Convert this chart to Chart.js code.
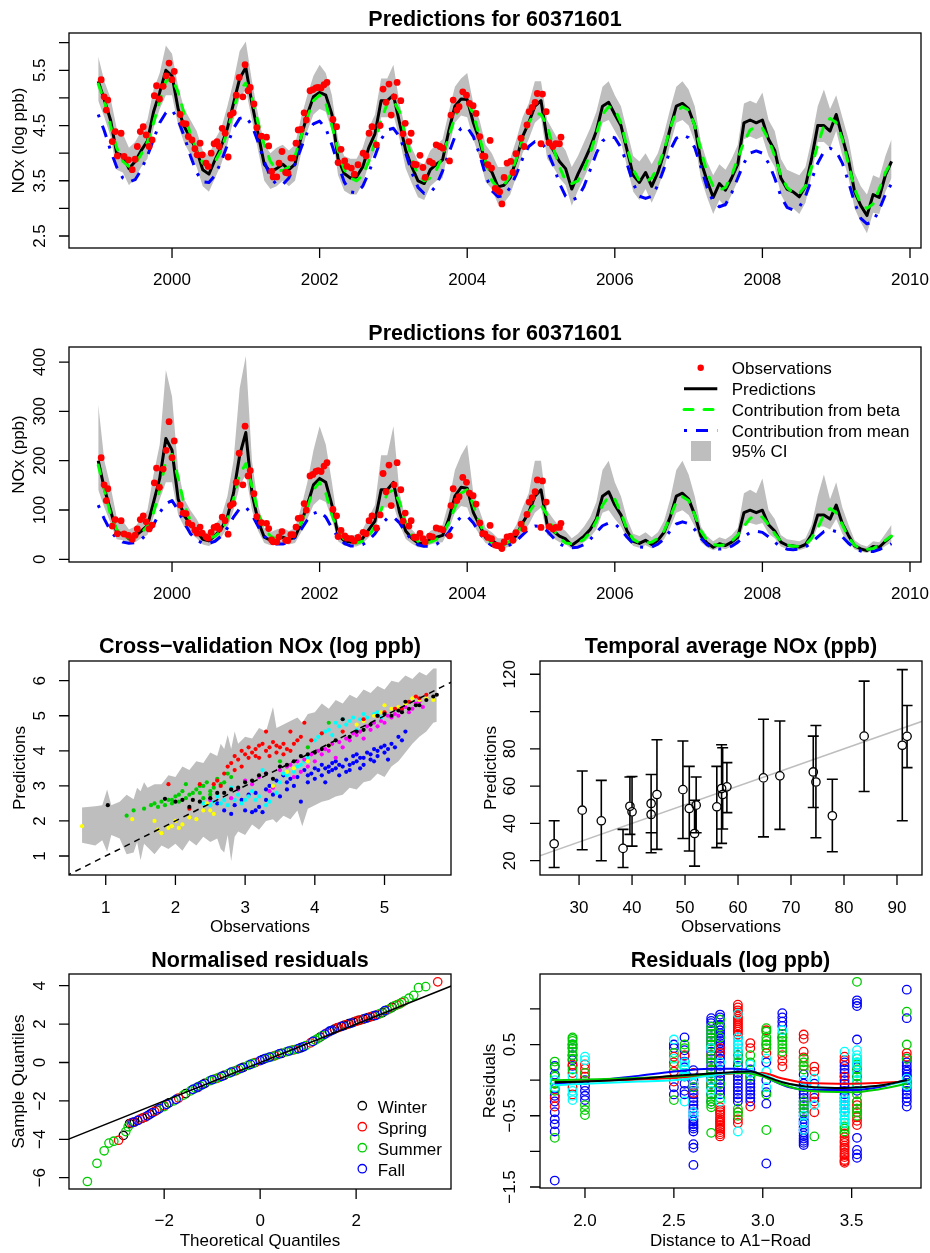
<!DOCTYPE html>
<html>
<head>
<meta charset="utf-8">
<script src="https://cdn.jsdelivr.net/npm/chart.js@4.4.1/dist/chart.umd.min.js"></script>
<style>
  body { margin: 0; background: #fff; }
  #page { position: relative; width: 930px; height: 1253px; overflow: hidden; }
  .panel { position: absolute; }
</style>
</head>
<body>
<div id="page">
  <div class="panel" style="left:0;top:0"><canvas id="c1" width="930" height="300"></canvas></div>
  <div class="panel" style="left:0;top:300px"><canvas id="c2" width="930" height="315"></canvas></div>
  <div class="panel" style="left:0;top:615px"><canvas id="c3" width="465" height="320"></canvas></div>
  <div class="panel" style="left:465px;top:615px"><canvas id="c4" width="465" height="320"></canvas></div>
  <div class="panel" style="left:0;top:935px"><canvas id="c5" width="465" height="318"></canvas></div>
  <div class="panel" style="left:465px;top:935px"><canvas id="c6" width="465" height="318"></canvas></div>
</div>
<script>
// ---- time series (monthly from Jan 1999) ----
const tsStart = 1999;
const predLog = [5.30,4.96,4.60,4.00,3.95,3.72,3.85,4.05,4.22,4.75, 5.10,5.50,5.40,4.80,4.48,4.27,4.05,3.70,3.62,3.88,
  4.12,4.45,4.90,5.35,5.55,4.90,4.35,3.80,3.66,3.72, 3.80,3.70,3.80,4.30,4.70,5.02,5.10,5.05,4.70,3.90,
  3.63,3.55,3.57,3.75,4.10,4.35,4.95,4.95,5.05,4.55, 4.05,3.75,3.50,3.45,3.70,3.80,3.88,4.40,4.85,4.98,
  4.97,4.55,4.24,3.78,3.66,3.39,3.42,3.56,3.88,4.30, 4.55,4.85,4.95,4.25,4.05,3.85,3.72,3.35,3.62,3.85,
  4.10,4.40,4.85,4.92,4.70,4.50,4.05,3.60,3.47,3.65, 3.40,3.65,4.00,4.45,4.85,4.90,4.80,4.50,3.85,3.50,
  3.20,3.45,3.33,3.55,3.80,4.55,4.60,4.55,4.60,4.25, 4.05,3.55,3.35,3.30,3.21,3.40,3.90,4.50,4.50,4.40,
  4.70,4.28,3.88,3.30,3.05,2.87,3.25,3.20,3.60,3.85];
const betaLog = [5.25,4.95,4.50,4.10,3.85,3.76,3.80,3.98,4.20,4.55, 4.95,5.30,5.36,5.10,4.70,4.35,4.05,3.82,3.75,3.85,
  4.05,4.40,4.80,5.15,5.27,5.00,4.55,4.15,3.85,3.70, 3.68,3.75,3.95,4.30,4.65,4.95,5.05,4.90,4.50,4.05,
  3.70,3.55,3.50,3.60,3.85,4.20,4.60,4.90,4.95,4.75, 4.30,3.90,3.60,3.50,3.55,3.70,3.95,4.30,4.65,4.90,
  4.95,4.70,4.30,3.85,3.50,3.37,3.42,3.60,3.90,4.25, 4.55,4.72,4.70,4.50,4.10,3.75,3.50,3.45,3.50,3.70,
  4.00,4.35,4.70,4.84,4.80,4.55,4.10,3.70,3.50,3.48, 3.55,3.75,4.05,4.45,4.75,4.84,4.78,4.50,4.05,3.65,
  3.40,3.33,3.38,3.60,3.90,4.20,4.42,4.48,4.45,4.25, 3.95,3.60,3.38,3.28,3.27,3.40,3.75,4.15,4.50,4.63,
  4.55,4.25,3.80,3.35,3.08,3.00,3.08,3.35,3.65,3.85];
const meanLog = [4.70,4.40,4.05,3.75,3.55,3.48,3.52,3.70,3.95,4.25, 4.55,4.73,4.78,4.60,4.30,3.95,3.65,3.48,3.47,3.60,
  3.85,4.15,4.45,4.63,4.66,4.50,4.20,3.85,3.57,3.43, 3.43,3.55,3.80,4.10,4.38,4.53,4.58,4.45,4.15,3.80,
  3.48,3.30,3.28,3.40,3.65,3.95,4.25,4.42,4.45,4.30, 4.00,3.65,3.38,3.27,3.28,3.42,3.68,4.00,4.30,4.45,
  4.47,4.30,3.98,3.60,3.32,3.21,3.23,3.38,3.62,3.90, 4.12,4.21,4.20,4.05,3.78,3.45,3.22,3.15,3.20,3.40,
  3.70,4.00,4.22,4.30,4.28,4.10,3.80,3.45,3.22,3.18, 3.22,3.42,3.72,4.05,4.27,4.33,4.28,4.10,3.75,3.38,
  3.12,3.03,3.07,3.28,3.55,3.82,4.00,4.04,4.00,3.82, 3.55,3.22,3.02,2.97,3.02,3.22,3.52,3.82,4.03,4.09,
  4.03,3.82,3.48,3.10,2.82,2.72,2.76,2.98,3.25,3.45];
const ciHighLog = [5.75,5.30,5.00,4.45,4.35,4.10,4.20,4.40,4.60,5.15, 5.45,5.95,5.80,5.20,4.80,4.60,4.40,4.05,3.95,4.25,
  4.45,4.85,5.30,5.85,6.02,5.30,4.70,4.15,4.00,4.10, 4.15,4.05,4.15,4.65,5.05,5.40,5.60,5.45,5.05,4.25,
  3.95,3.90,3.90,4.10,4.45,4.70,5.35,5.35,5.60,4.90, 4.40,4.10,3.85,3.80,4.05,4.15,4.25,4.75,5.20,5.35,
  5.45,4.90,4.60,4.15,4.00,3.75,3.75,3.90,4.25,4.65, 4.90,5.30,5.30,4.60,4.40,4.20,4.05,3.75,3.95,4.20,
  4.45,4.75,5.20,5.30,5.05,4.85,4.40,3.95,3.85,4.00, 3.80,4.00,4.35,4.80,5.20,5.30,5.15,4.85,4.20,3.85,
  3.60,3.80,3.70,3.90,4.15,4.90,4.95,4.90,5.10,4.60, 4.40,3.90,3.70,3.65,3.60,3.75,4.25,4.85,5.15,4.80,
  5.05,4.65,4.25,3.65,3.40,3.25,3.60,3.55,3.95,4.25];
const ciLowLog = [4.95,4.65,4.30,3.70,3.65,3.42,3.55,3.75,3.90,4.45, 4.80,5.05,5.05,4.50,4.18,3.97,3.75,3.40,3.30,3.55,
  3.80,4.15,4.60,5.00,5.15,4.60,4.05,3.50,3.35,3.40, 3.50,3.40,3.50,4.00,4.40,4.70,4.80,4.75,4.40,3.60,
  3.32,3.25,3.25,3.45,3.80,4.05,4.65,4.65,4.70,4.25, 3.72,3.45,3.20,3.15,3.40,3.50,3.55,4.10,4.55,4.68,
  4.65,4.25,3.92,3.48,3.35,3.08,3.10,3.25,3.58,4.00, 4.25,4.55,4.65,3.90,3.75,3.55,3.42,3.05,3.32,3.55,
  3.80,4.10,4.55,4.60,4.40,4.20,3.75,3.30,3.15,3.35, 3.10,3.35,3.70,4.15,4.55,4.60,4.50,4.20,3.55,3.20,
  2.90,3.15,3.02,3.25,3.50,4.25,4.30,4.25,4.30,3.95, 3.75,3.25,3.05,3.00,2.90,3.10,3.60,4.20,4.20,4.10,
  4.40,3.95,3.55,3.00,2.75,2.55,2.92,2.90,3.30,3.55];

const predPpb = [200,143,99.5,54.6,51.9,41.3,47.0,57.4,68.0,116, 164,245,221,122,88.2,71.5,57.4,40.4,37.3,48.4,
  61.6,85.6,134,211,257,134,77.5,44.7,38.9,41.3, 44.7,40.4,44.7,73.7,110,151,164,156,110,49.4,
  37.7,34.8,35.5,42.5,60.3,77.5,141,141,156,94.6, 57.4,42.5,33.1,31.5,40.4,44.7,48.4,81.5,128,146,
  144,94.6,69.4,43.8,38.9,29.7,30.6,35.2,48.4,73.7, 94.6,128,141,70.1,57.4,47.0,41.3,28.5,37.3,47.0,
  60.3,81.5,128,137,110,90.0,57.4,36.6,32.1,38.5, 30.0,38.5,54.6,85.6,128,134,122,90.0,47.0,33.1,
  24.5,31.5,27.9,34.8,44.7,94.6,99.5,94.6,99.5,70.1, 57.4,34.8,28.5,27.1,24.8,30.0,49.4,90.0,90.0,81.5,
  110,72.2,48.4,27.1,21.1,17.6,25.8,24.5,36.6,47.0];
const betaPpb = [191,141,90.0,60.3,47.0,42.9,44.7,53.5,66.7,94.6, 141,200,213,164,110,77.5,57.4,45.6,42.5,47.0,
  57.4,81.5,122,172,194,148,94.6,63.4,47.0,40.4, 39.6,42.5,51.9,73.7,105,141,156,134,90.0,57.4,
  40.4,34.8,33.1,36.6,47.0,66.7,99.5,134,141,116, 73.7,49.4,36.6,33.1,34.8,40.4,51.9,73.7,105,134,
  141,110,73.7,47.0,33.1,29.1,30.6,36.6,49.4,70.1, 94.6,112,110,90.0,60.3,42.5,33.1,31.5,33.1,40.4,
  54.6,77.5,110,127,122,94.6,60.3,40.4,33.1,32.5, 34.8,42.5,57.4,85.6,116,127,119,90.0,57.4,38.5,
  30.0,27.9,29.4,36.6,49.4,66.7,83.1,88.2,85.6,70.1, 51.9,36.6,29.4,26.6,26.3,30.0,42.5,63.4,90.0,103,
  94.6,70.1,44.7,28.5,21.8,20.1,21.8,28.5,38.5,47.0];
const meanPpb = [110,81.5,57.4,42.5,34.8,32.5,33.8,40.4,51.9,70.1, 94.6,113,119,99.5,73.7,51.9,38.5,32.5,32.1,36.6,
  47.0,63.4,85.6,103,106,90.0,66.7,47.0,35.5,30.9, 30.9,34.8,44.7,60.3,79.8,92.8,97.5,85.6,63.4,44.7,
  32.5,27.1,26.6,30.0,38.5,51.9,70.1,83.1,85.6,73.7, 54.6,38.5,29.4,26.3,26.6,30.6,39.6,54.6,73.7,85.6,
  87.4,73.7,53.5,36.6,27.7,24.8,25.3,29.4,37.3,49.4, 61.6,67.4,66.7,57.4,43.8,31.5,25.0,23.3,24.5,30.0,
  40.4,54.6,68.0,73.7,72.2,60.3,44.7,31.5,25.0,24.0, 25.0,30.6,41.3,57.4,71.5,76.0,72.2,60.3,42.5,29.4,
  22.6,20.7,21.5,26.6,34.8,45.6,54.6,56.8,54.6,45.6, 34.8,25.0,20.5,19.5,20.5,25.0,33.8,45.6,56.3,59.7,
  56.3,45.6,32.5,22.2,16.8,15.2,15.8,19.7,25.8,31.5];
const ciHighPpb = [314,200,148,85.6,77.5,60.3,66.7,81.5,99.5,172, 233,384,330,181,122,99.5,81.5,57.4,51.9,70.1,
  85.6,128,200,347,412,200,110,63.4,54.6,60.3, 63.4,57.4,63.4,105,156,221,270,233,156,70.1,
  51.9,49.4,49.4,60.3,85.6,110,211,211,270,134, 81.5,60.3,47.0,44.7,57.4,63.4,70.1,116,181,211,
  233,134,99.5,63.4,54.6,42.5,42.5,49.4,70.1,105, 134,200,200,99.5,81.5,66.7,57.4,42.5,51.9,66.7,
  85.6,116,181,200,156,128,81.5,51.9,47.0,54.6, 44.7,54.6,77.5,122,181,200,172,128,66.7,47.0,
  36.6,44.7,40.4,49.4,63.4,134,141,134,164,99.5, 81.5,49.4,40.4,38.5,36.6,42.5,70.1,128,172,122,
  156,105,70.1,38.5,30.0,25.8,36.6,34.8,51.9,70.1];
const ciLowPpb = [141,105,73.7,40.4,38.5,30.6,34.8,42.5,49.4,85.6, 122,156,156,90.0,65.4,53.0,42.5,30.0,27.1,34.8,
  44.7,63.4,99.5,148,172,99.5,57.4,33.1,28.5,30.0, 33.1,30.0,33.1,54.6,81.5,110,122,116,81.5,36.6,
  27.7,25.8,25.8,31.5,44.7,57.4,105,105,110,70.1, 41.3,31.5,24.5,23.3,30.0,33.1,34.8,60.3,94.6,108,
  105,70.1,50.4,32.5,28.5,21.8,22.2,25.8,35.9,54.6, 70.1,94.6,105,49.4,42.5,34.8,30.6,21.1,27.7,34.8,
  44.7,60.3,94.6,99.5,81.5,66.7,42.5,27.1,23.3,28.5, 22.2,28.5,40.4,63.4,94.6,99.5,90.0,66.7,34.8,24.5,
  18.2,23.3,20.5,25.8,33.1,70.1,73.7,70.1,73.7,51.9, 42.5,25.8,21.1,20.1,18.2,22.2,36.6,66.7,66.7,60.3,
  81.5,51.9,34.8,20.1,15.6,12.8,18.5,18.2,27.1,34.8];

const obsYear = [1999.04,1999.08,1999.13,1999.11,1999.19,1999.23,1999.31,1999.26,1999.35,1999.41,
  1999.46,1999.50,1999.53,1999.57,1999.61,1999.65,1999.69,1999.73,1999.76,1999.79,
  1999.83,1999.88,1999.92,1999.96,2000.00,2000.03,2000.11,2000.15,2000.19,2000.22,
  2000.27,2000.31,2000.34,2000.38,2000.41,2000.46,2000.49,2000.53,2000.57,2000.61,
  2000.64,2000.68,2000.72,2000.76,2000.79,2000.83,2000.87,2000.91,2000.96,2000.99,
  2001.03,2001.06,2001.11,2001.15,2001.21,2001.28,2001.31,2001.35,2001.37,2001.42,
  2001.45,2001.49,2001.54,2001.57,2001.61,2001.64,2001.68,2001.71,2001.75,2001.79,
  2001.82,2001.87,2001.91,2001.95,2001.98,2002.02,2002.06,2002.10,2002.18,2002.23,
  2002.25,2002.29,2002.34,2002.37,2002.43,2002.47,2002.52,2002.59,2002.63,2002.67,
  2002.71,2002.77,2002.82,2002.86,2002.90,2002.94,2002.97,2003.01,2003.05,2003.10,
  2003.13,2003.16,2003.21,2003.24,2003.28,2003.31,2003.36,2003.40,2003.43,2003.49,
  2003.53,2003.58,2003.63,2003.67,2003.76,2003.78,2003.81,2003.86,2003.89,2003.94,
  2003.99,2004.03,2004.08,2004.12,2004.17,2004.21,2004.24,2004.28,2004.31,2004.33,
  2004.38,2004.41,2004.44,2004.47,2004.50,2004.54,2004.59,2004.62,2004.66,2004.73,
  2004.77,2004.81,2004.84,2004.88,2004.92,2004.95,2005.00,2005.02,2005.07,2005.11,
  2005.16,2005.20,2005.25,2005.27];
const obsLog = [5.33,5.02,4.96,4.78,4.21,4.39,4.36,3.95,3.94,3.88,
  3.70,3.89,4.12,4.39,4.48,4.33,4.12,4.24,5.04,5.22,
  4.98,5.21,5.40,5.63,5.33,5.48,4.70,4.54,4.53,4.30,
  4.24,4.08,3.97,4.18,3.97,3.82,3.76,4.00,4.17,4.21,
  4.12,4.45,4.36,3.93,4.69,4.73,5.05,5.37,5.02,5.60,
  5.13,5.19,4.89,4.46,4.31,4.29,4.13,3.67,3.57,3.57,
  3.82,4.03,3.65,3.64,3.91,3.91,4.18,4.42,4.43,4.73,
  4.60,5.13,5.15,5.18,5.19,5.18,5.24,5.28,4.61,4.48,
  3.83,4.07,3.86,3.76,3.73,3.62,3.79,4.00,3.95,4.36,
  4.48,4.15,4.50,5.16,4.92,5.25,4.69,5.02,5.28,4.95,
  4.35,4.54,4.21,4.36,3.80,3.79,3.96,3.74,3.56,3.85,
  3.82,4.15,4.12,4.09,3.86,4.69,4.96,4.78,4.84,5.11,
  5.05,4.90,4.86,4.72,4.30,3.95,3.94,3.79,4.23,3.73,
  3.36,3.33,3.30,3.08,3.56,3.82,3.85,3.65,3.99,4.27,
  4.12,4.51,4.75,4.83,4.92,5.08,4.17,5.07,4.75,4.19,
  4.12,4.17,4.17,4.29];
const obsPpb = [206,151,143,119,67.4,80.6,78.3,51.9,51.4,48.4,
  40.4,48.9,61.6,80.6,88.2,76.0,61.6,69.4,155,185,
  146,183,221,279,206,240,110,93.7,92.8,73.7,
  69.4,59.1,53.0,65.4,53.0,45.6,42.9,54.6,64.7,67.4,
  61.6,85.6,78.3,50.9,109,113,156,215,151,270,
  169,180,133,86.5,74.4,73.0,62.2,39.3,35.5,35.5,
  45.6,56.3,38.5,38.1,49.9,49.9,65.4,83.1,83.9,113,
  99.5,169,172,178,180,178,189,196,101,88.2,
  46.1,58.6,47.5,42.9,41.7,37.3,44.3,54.6,51.9,78.3,
  88.2,63.4,90.0,174,137,191,109,151,196,141,
  77.5,93.7,67.4,78.3,44.7,44.3,52.5,42.1,35.2,47.0,
  45.6,63.4,61.6,59.7,47.5,109,143,119,127,166,
  156,134,129,112,73.7,51.9,51.4,44.3,68.7,41.7,
  28.8,27.9,27.1,21.8,35.2,45.6,47.0,38.5,54.1,71.5,
  61.6,90.9,116,125,137,161,64.7,159,116,66.0,
  61.6,64.7,64.7,73.0];

const yearTicks = [2000, 2002, 2004, 2006, 2008, 2010];
const logTicks = [2.5, 3.0, 3.5, 4.0, 4.5, 5.0, 5.5, 6.0];
const logTickLabels = ['2.5', '', '3.5', '', '4.5', '', '5.5', ''];
const ppbTicks = [0, 100, 200, 300, 400];
const legendNames = ['Observations', 'Predictions', 'Contribution from beta', 'Contribution from mean', '95% CI'];

// ---- cross-validation scatter ----
const cvBandObs = [0.66,0.85,0.95,1.02,1.08,1.2,1.3,1.4,1.45,1.5,1.55,1.6,1.7,1.8,1.9,2.0,2.1,2.2,2.3,2.4,2.5,2.6,2.65,2.7,2.75,2.8,2.85,2.9,3.0,3.1,3.2,3.3,3.4,3.45,3.55,3.65,3.75,3.82,3.9,4.0,4.1,4.2,4.3,4.4,4.5,4.6,4.7,4.8,4.9,5.0,5.1,5.2,5.3,5.4,5.5,5.6,5.7,5.75];
const cvBandLo = [1.38,1.30,1.45,1.12,1.60,1.50,1.05,1.10,1.40,0.88,1.35,1.25,1.05,1.30,1.20,1.35,1.15,1.45,1.30,1.55,1.40,1.50,1.20,1.10,1.60,0.85,1.55,1.70,1.60,1.90,1.75,2.00,2.05,1.95,2.15,2.05,2.30,1.85,2.35,2.45,2.55,2.60,2.70,2.75,2.95,2.90,3.10,3.15,3.35,3.25,3.55,3.70,3.95,4.20,4.40,4.55,4.80,4.83];
const cvBandHi = [2.38,2.42,2.45,2.90,2.45,2.55,2.75,2.62,2.95,2.85,3.10,2.95,3.05,3.05,3.30,3.25,3.55,3.45,3.70,3.65,3.95,3.85,4.20,4.05,4.45,4.05,4.55,4.20,4.40,4.35,4.65,4.55,5.25,4.65,4.75,4.85,4.95,4.80,5.05,5.10,5.35,5.20,5.45,5.35,5.60,5.50,5.75,5.65,5.85,5.75,6.00,5.95,6.15,6.05,6.25,6.15,6.35,6.35];
const cvBlue = [[2.6,2.5],[2.7,2.3],[2.8,2.2],[2.85,2.45],[3.0,2.3],[3.05,2.75],[3.1,2.25],[3.2,2.4],[3.3,2.6],[3.35,3.0],[3.4,2.75],[3.5,2.7],[3.6,2.9],[3.65,3.2],[3.7,3.0],[3.8,2.55],[3.9,3.1],[3.95,3.35],[4.0,3.2],[4.1,3.3],[4.15,3.1],[4.2,3.4],[4.25,3.65],[4.3,3.5],[4.35,3.3],[4.4,3.55],[4.5,3.6],[4.55,3.85],[4.6,3.7],[4.65,3.5],[4.7,3.8],[4.8,3.9],[4.85,3.7],[4.9,4.0],[5.0,3.95],[5.05,3.75],[5.15,4.1],[5.25,4.3],[5.3,4.55],
  [4.05,3.45],[4.1,3.6],[4.2,3.55],[4.25,3.45],[4.3,3.7],[4.35,3.6],[4.45,3.75],[4.5,3.45],[4.55,3.65],[4.6,3.9],[4.65,3.8],[4.7,3.6],[4.75,3.95],[4.8,3.75],[4.85,4.05],[4.9,3.85],[4.95,4.1],[5.0,4.15],[5.05,4.05],[5.1,4.2],[5.2,4.4],[4.0,3.5],[3.9,3.3],[3.85,3.45],[3.75,3.25],[3.6,3.1],[3.55,3.3],[3.45,3.15],[4.45,3.4],[4.15,3.5],[3.3,2.9],[3.15,2.8],[2.95,2.6],[3.25,2.25],[3.15,2.3]];
const cvGreen = [[1.3,2.15],[1.4,2.3],[1.55,2.35],[1.65,2.45],[1.7,2.5],[1.8,2.55],[1.85,2.45],[1.9,2.6],[1.95,2.5],[2.0,2.7],[2.05,2.55],[2.1,2.85],[2.15,3.05],[2.2,2.75],[2.3,2.9],[2.35,3.0],[2.4,2.65],[2.45,3.1],[2.5,2.85],[2.55,2.95],[2.6,3.2],[2.7,3.1],[2.75,3.35],[3.5,3.7],[3.9,4.1],[4.2,4.8],
  [1.75,2.4],[1.95,2.6],[2.05,2.75],[2.25,2.8],[2.4,3.0],[2.5,2.75],[2.65,3.05],[2.8,3.25],[2.15,2.65],[2.35,2.8]];
const cvCyan = [[2.4,2.5],[2.5,2.45],[2.6,2.7],[2.7,2.6],[2.8,2.95],[2.9,2.75],[3.0,2.6],[3.1,2.85],[3.2,2.7],[3.25,3.45],[3.3,2.45],[3.4,3.0],[3.5,3.1],[3.6,3.3],[3.7,3.4],[3.8,3.6],[3.9,3.8],[4.0,4.3],[4.1,4.5],[4.2,4.6],[4.3,4.8],[4.4,4.9],[4.55,4.95],[4.6,4.6],[4.7,5.05],[4.85,5.05],[5.0,5.05],
  [2.55,2.55],[2.65,2.5],[2.75,2.45],[2.85,2.6],[2.95,2.5],[3.05,2.7],[3.15,2.6],[3.35,2.55],[3.45,2.8],[4.05,4.4],[4.15,4.55],[4.25,4.45],[4.35,4.7],[4.45,4.75],[4.5,4.85],[4.65,4.9],[4.75,4.95],[4.9,5.1],[3.55,3.35],[3.75,3.55],[3.85,3.7],[4.95,4.95]];
const cvMagenta = [[2.5,2.6],[2.8,2.65],[3.0,3.15],[3.2,3.25],[3.35,2.85],[3.4,2.95],[3.6,3.55],[3.7,3.25],[3.8,3.4],[3.9,3.55],[4.0,3.7],[4.1,3.9],[4.2,4.0],[4.3,3.8],[4.4,4.1],[4.5,4.3],[4.6,4.45],[4.7,4.35],[4.8,4.6],[4.9,4.7],[5.0,4.8],[5.1,4.95],[5.2,5.0],[5.35,5.1],[5.55,5.25],
  [3.5,3.45],[3.65,3.6],[3.75,3.7],[3.85,3.75],[3.95,3.9],[4.05,4.0],[4.15,4.05],[4.25,4.2],[4.35,4.25],[4.45,4.35],[4.55,4.5],[4.65,4.55],[4.75,4.7],[4.85,4.8],[4.95,4.85],[5.05,5.0],[5.15,5.05],[5.25,5.15],[5.3,5.25],[5.45,5.35],[3.3,3.35],[3.1,3.05],[2.9,2.9],[5.5,5.4],[5.4,5.2]];
const cvYellow = [[0.66,1.85],[1.38,2.05],[1.7,2.0],[1.75,1.75],[1.8,1.65],[1.9,1.8],[1.95,1.85],[2.0,2.0],[2.05,1.8],[2.1,1.9],[2.2,2.1],[2.3,2.05],[2.45,2.5],[2.5,2.3],[2.55,2.2],[3.4,3.0],[3.7,3.5],[4.2,4.15],[4.6,4.75],[4.85,5.0],[5.0,5.3],[5.2,5.25],[5.4,5.5],[5.7,5.45],
  [5.1,5.2],[5.3,5.35],[5.5,5.45],[5.6,5.5],[4.7,4.85],[4.95,5.1],[3.9,3.7],[3.6,3.4],[2.4,2.3]];
const cvRed = [[1.9,3.05],[2.2,2.35],[2.35,3.05],[2.6,3.15],[2.65,3.0],[2.7,3.35],[2.8,3.65],[2.85,3.45],[2.9,3.75],[2.95,3.55],[3.0,3.9],[3.05,4.1],[3.1,3.95],[3.15,4.05],[3.2,3.8],[3.25,4.2],[3.3,4.0],[3.3,4.55],[3.35,3.85],[3.4,4.25],[3.45,3.95],[3.5,4.1],[3.55,3.9],[3.6,4.05],[3.65,4.55],[3.7,4.2],[3.8,4.4],[3.85,4.8],[3.95,4.3],[4.1,4.5],[4.4,4.55],[4.7,4.9],[5.0,5.1],[5.25,5.2],[5.45,5.55],[5.6,5.6],
  [2.85,3.85],[2.95,4.0],[3.05,3.8],[3.15,3.85],[3.2,4.15],[3.35,4.1],[3.45,4.15],[3.55,4.2],[3.65,4.0],[3.75,4.3],[2.75,3.55],[2.55,3.05],[5.35,5.4],[5.5,5.5],[5.15,5.2],[4.9,5.0]];
const cvBlack = [[1.03,2.45],[1.85,2.63],[2.1,2.6],[2.2,2.4],[2.35,2.55],[2.6,2.8],[2.7,2.8],[2.9,2.95],[3.0,3.1],[3.2,3.3],[3.4,3.2],[3.5,3.55],[3.8,3.85],[4.0,3.95],[4.3,4.3],[4.4,4.9],[4.6,4.55],[4.8,4.75],[4.9,5.0],[5.0,5.05],[5.2,5.15],[5.3,5.4],[5.35,5.2],[5.5,5.3],[5.7,5.55],[5.75,5.6],
  [3.1,3.15],[3.3,3.35],[3.6,3.6],[3.7,3.7],[3.9,3.9],[4.1,4.05],[4.2,4.15],[4.5,4.4],[4.7,4.6],[5.1,5.0],[5.25,5.1],[5.45,5.3],[5.6,5.45],[2.8,2.9],[2.5,2.65],[2.0,2.55],[2.25,2.6]];

// ---- temporal averages ----
const tempObs  = [25.3,30.6,34.2,38.3,39.6,40.0,43.6,43.6,44.7,49.6,50.8,51.8,52.1,56.0,56.9,57.1,57.9,64.8,67.9,74.2,74.7,77.8,83.8,91.0,91.9];
const tempPred = [29.1,47.1,41.4,26.6,49.2,46.2,50.7,44.8,55.5,58.1,48.0,34.6,49.8,48.9,58.7,55.5,59.6,64.4,65.5,67.6,62.2,44.1,86.8,81.9,86.7];
const tempLo   = [16.4,25.9,20.0,16.4,34.1,27.8,35.0,24.3,26.1,31.9,25.2,17.1,35.0,27.0,29.3,37.0,45.8,32.8,36.8,48.5,32.3,24.8,57.1,41.4,69.9];
const tempHi   = [41.4,68.1,63.1,36.8,64.9,65.2,66.2,66.2,84.9,84.2,70.6,52.4,64.9,70.6,82.2,80.6,72.6,95.9,94.9,86.8,92.5,63.7,116.3,122.5,103.2];

// ---- QQ plot (theoretical, sample) ----
const qqWinter = [[-2.85,-3.8],[-2.72,-3.18],[-2.62,-3.1],[-2.45,-2.9],[-2.3,-2.7],[-2.15,-2.48],[-1.9,-2.1],[-1.55,-1.62],[-1.15,-1.08],[-0.75,-0.67],[-0.35,-0.25],[0.05,0.15],[0.45,0.48],[0.85,0.77],[1.25,1.32],[1.55,1.74],[1.62,1.82],[1.75,1.93],[1.85,2.02],[1.95,2.1],[2.05,2.19],[2.15,2.26],[2.25,2.34],[2.35,2.42],[2.55,2.6],[2.75,2.88]];
const qqSpring = [[-2.95,-4.05],[-2.68,-3.15],[-2.5,-2.95],[-2.4,-2.85],[-2.2,-2.55],[-2.0,-2.25],[-1.7,-1.85],[-1.3,-1.3],[-0.9,-0.82],[-0.5,-0.42],[-0.1,0.0],[0.3,0.35],[0.7,0.66],[1.05,1.02],[1.4,1.55],[1.6,1.8],[1.68,1.87],[1.8,1.98],[2.0,2.15],[2.1,2.22],[2.3,2.38],[2.45,2.5],[2.65,2.74],[2.85,3.0],[2.95,3.12],[3.7,4.2]];
const qqSummer = [[-3.6,-6.2],[-3.4,-5.25],[-3.25,-4.6],[-3.15,-4.2],[-3.05,-4.1],[-2.8,-3.6],[-2.75,-3.35],[-2.0,-2.3],[-1.8,-2.0],[-1.6,-1.7],[-1.45,-1.48],[-1.35,-1.35],[-1.25,-1.22],[-1.05,-0.95],[-0.95,-0.86],[-0.85,-0.77],[-0.65,-0.56],[-0.55,-0.46],[-0.45,-0.36],[-0.25,-0.15],[-0.15,-0.05],[0.15,0.24],[0.25,0.31],[0.35,0.4],[0.55,0.56],[0.65,0.63],[0.75,0.69],[0.95,0.88],[1.15,1.17],[1.2,1.25],[1.3,1.4],[1.45,1.62],[2.5,2.55],[2.6,2.68],[2.7,2.8],[2.8,2.95],[2.9,3.05],[3.0,3.2],[3.1,3.35],[3.2,3.5],[3.3,3.9],[3.45,3.95]];
const qqFall = [[-2.65,-3.12],[-2.55,-3.02],[-2.35,-2.78],[-2.25,-2.62],[-2.1,-2.4],[-1.95,-2.18],[-1.75,-1.92],[-1.4,-1.4],[-1.3,-1.28],[-1.2,-1.15],[-1.0,-0.9],[-0.8,-0.72],[-0.6,-0.5],[-0.4,-0.3],[-0.2,-0.1],[0.0,0.1],[0.1,0.2],[0.2,0.28],[0.4,0.45],[0.6,0.6],[0.8,0.72],[0.9,0.82],[1.1,1.1],[1.35,1.48],[1.45,1.63],[1.5,1.68],[1.7,1.88],[1.9,2.05],[2.2,2.3],[2.4,2.45],[2.6,2.7]];
const seasonNames = ['Winter', 'Spring', 'Summer', 'Fall'];

// ---- residuals vs distance ----
const resBlue = [[1.83,0.2],[1.83,0.08],[1.83,-0.12],[1.83,-0.22],[1.83,-0.3],[1.83,-0.45],[1.83,-0.55],[1.83,-0.62],[1.83,-0.72],[1.83,-1.41],
  [1.93,0.5],[1.93,0.45],[1.93,0.35],[1.93,0.28],[1.93,0.2],
  [2.0,0.0],[2.0,-0.08],[2.0,-0.15],[2.0,-0.22],[2.0,-0.28],
  [2.5,0.5],[2.5,0.45],[2.5,-0.1],[2.5,-0.2],
  [2.56,0.6],[2.56,0.42],[2.56,0.34],[2.56,0.26],[2.56,0.18],[2.56,0.05],[2.56,-0.05],[2.56,-0.15],[2.56,-0.2],
  [2.61,0.14],[2.61,0.0],[2.61,-0.05],[2.61,-0.1],[2.61,-0.15],[2.61,-0.2],[2.61,-0.25],[2.61,-0.3],[2.61,-0.35],[2.61,-0.4],[2.61,-0.45],[2.61,-0.5],[2.61,-0.55],[2.61,-0.58],[2.61,-0.62],[2.61,-0.65],[2.61,-0.68],[2.61,-0.72],[2.61,-0.9],[2.61,-0.95],[2.61,-1.19],
  [2.71,0.87],[2.71,0.83],[2.71,0.8],[2.71,0.75],[2.71,0.7],[2.71,0.65],[2.71,0.6],[2.71,0.55],[2.71,0.5],[2.71,0.45],[2.71,0.4],[2.71,0.35],[2.71,0.3],[2.71,0.25],[2.71,0.2],[2.71,0.15],[2.71,0.1],[2.71,0.05],[2.71,0.0],[2.71,-0.05],[2.71,-0.1],[2.71,-0.2],[2.71,-0.3],
  [2.76,0.92],[2.76,0.88],[2.76,0.85],[2.76,0.78],[2.76,0.74],[2.76,0.7],[2.76,0.66],[2.76,0.62],[2.76,0.58],[2.76,0.55],[2.76,0.52],[2.76,0.48],[2.76,0.44],[2.76,0.4],[2.76,0.35],[2.76,0.3],[2.76,0.25],[2.76,0.2],[2.76,0.15],[2.76,0.1],[2.76,0.05],[2.76,0.0],[2.76,-0.05],[2.76,-0.1],[2.76,-0.15],[2.76,-0.2],
  [2.86,0.6],[2.86,0.5],[2.86,0.4],[2.86,0.35],[2.86,0.3],[2.86,0.25],[2.86,0.2],[2.86,0.1],[2.86,0.05],[2.86,0.0],[2.86,-0.05],[2.86,-0.1],[2.86,-0.15],[2.86,-0.2],[2.86,-0.25],[2.86,-0.3],
  [2.93,0.15],[2.93,0.05],[2.93,0.0],[2.93,-0.05],[2.93,-0.1],[2.93,-0.15],[2.93,-0.2],[2.93,-0.25],[2.93,-0.3],
  [3.02,0.25],[3.02,0.0],[3.02,-0.17],[3.02,-0.33],[3.02,-1.17],
  [3.11,0.94],[3.11,0.88],[3.11,0.82],[3.11,0.76],[3.11,0.6],
  [3.23,0.08],[3.23,-0.05],[3.23,-0.1],[3.23,-0.15],[3.23,-0.2],[3.23,-0.25],[3.23,-0.3],[3.23,-0.35],[3.23,-0.4],[3.23,-0.45],[3.23,-0.5],[3.23,-0.55],[3.23,-0.58],[3.23,-0.62],[3.23,-0.66],[3.23,-0.7],[3.23,-0.74],[3.23,-0.78],[3.23,-0.82],[3.23,-0.85],[3.23,-0.88],[3.23,-0.91],
  [3.29,-0.05],[3.29,-0.25],
  [3.46,0.25],[3.46,0.2],[3.46,0.15],[3.46,0.1],[3.46,0.05],[3.46,0.0],[3.46,-0.05],[3.46,-0.1],[3.46,-0.15],[3.46,-0.2],[3.46,-0.25],[3.46,-0.3],[3.46,-0.35],[3.46,-0.4],[3.46,-0.45],
  [3.53,1.12],[3.53,1.08],[3.53,1.04],[3.53,0.57],[3.53,0.18],[3.53,0.05],[3.53,-0.15],[3.53,-0.81],[3.53,-0.98],[3.53,-1.04],[3.53,-1.09],
  [3.81,1.27],[3.81,0.87],[3.81,0.3],[3.81,0.25],[3.81,0.2],[3.81,0.15],[3.81,0.12],[3.81,0.08],[3.81,0.05],[3.81,0.0],[3.81,-0.05],[3.81,-0.1],[3.81,-0.15],[3.81,-0.2],[3.81,-0.25],[3.81,-0.3],[3.81,-0.37]];
const resRed = [[1.83,-0.05],[1.83,-0.25],[1.83,-0.37],
  [1.93,0.22],[1.93,0.1],[1.93,-0.1],[1.93,-0.2],
  [2.0,0.22],[2.0,0.16],[2.0,0.1],[2.0,0.05],
  [2.5,0.33],[2.5,0.25],[2.5,0.12],[2.5,-0.02],
  [2.56,0.35],[2.56,0.1],
  [2.61,0.1],[2.61,-0.05],[2.61,-0.18],
  [2.71,0.35],[2.71,0.15],[2.71,-0.05],
  [2.76,0.45],[2.76,0.38],[2.76,-0.38],[2.76,-0.42],[2.76,-0.45],[2.76,-0.48],[2.76,-0.52],[2.76,-0.55],[2.76,-0.58],[2.76,-0.6],[2.76,-0.63],[2.76,-0.66],[2.76,-0.68],[2.76,-0.7],[2.76,-0.73],[2.76,-0.76],[2.76,-0.79],
  [2.86,1.06],[2.86,1.02],[2.86,0.98],[2.86,0.95],[2.86,0.92],[2.86,0.89],[2.86,0.86],[2.86,0.83],[2.86,0.8],[2.86,0.77],[2.86,0.74],[2.86,0.71],[2.86,0.68],[2.86,0.64],[2.86,-0.45],[2.86,-0.55],[2.86,-0.6],
  [2.93,0.52],[2.93,0.45],[2.93,-0.37],
  [3.02,0.7],[3.02,0.5],[3.02,0.38],
  [3.11,0.35],[3.11,0.27],[3.11,0.19],
  [3.23,0.64],[3.23,0.58],[3.23,0.4],[3.23,0.32],[3.23,0.2],
  [3.29,0.19],[3.29,0.12],[3.29,-0.2],[3.29,-0.3],[3.29,-0.45],
  [3.46,0.33],[3.46,0.28],[3.46,0.05],[3.46,-0.75],[3.46,-0.8],[3.46,-0.85],[3.46,-0.88],[3.46,-0.92],[3.46,-0.95],[3.46,-0.98],[3.46,-1.02],[3.46,-1.05],[3.46,-1.08],[3.46,-1.12],[3.46,-1.14],[3.46,-1.16],
  [3.53,-0.3],[3.53,-0.35],[3.53,-0.4],[3.53,-0.45],[3.53,-0.52],[3.53,-0.57],[3.53,-0.63],
  [3.81,0.38],[3.81,0.33]];
const resGreen = [[1.83,0.26],[1.83,0.18],[1.83,0.05],[1.83,-0.05],[1.83,-0.15],[1.83,-0.81],
  [1.93,0.6],[1.93,0.58],[1.93,0.55],[1.93,0.5],[1.93,0.45],[1.93,0.4],[1.93,0.35],[1.93,0.3],[1.93,0.15],
  [2.0,0.1],[2.0,-0.35],[2.0,-0.42],[2.0,-0.49],
  [2.5,0.38],[2.5,0.2],[2.5,-0.28],
  [2.56,0.5],[2.56,0.45],[2.56,0.1],
  [2.61,-0.1],
  [2.71,0.75],[2.71,0.7],[2.71,0.65],[2.71,0.6],[2.71,0.55],[2.71,0.5],[2.71,0.45],[2.71,0.35],[2.71,0.3],[2.71,0.25],[2.71,0.15],[2.71,0.1],[2.71,0.05],[2.71,-0.05],[2.71,-0.1],[2.71,-0.2],[2.71,-0.25],[2.71,-0.3],[2.71,-0.34],[2.71,-0.38],[2.71,-0.74],
  [2.76,0.85],[2.76,0.75],[2.76,0.6],[2.76,-0.05],[2.76,-0.25],
  [2.86,0.4],[2.86,0.35],[2.86,0.3],[2.86,0.25],[2.86,-0.4],[2.86,-0.45],[2.86,-0.5],
  [2.93,0.35],[2.93,0.25],[2.93,0.05],
  [3.02,0.73],[3.02,0.68],[3.02,0.6],[3.02,0.55],[3.02,0.5],[3.02,0.45],[3.02,-0.2],[3.02,-0.7],
  [3.11,0.65],[3.11,0.6],[3.11,0.55],[3.11,0.5],[3.11,0.45],[3.11,0.4],
  [3.23,0.3],[3.23,0.25],[3.23,0.2],[3.23,0.15],[3.23,-0.3],[3.23,-0.35],[3.23,-0.4],[3.23,-0.45],
  [3.29,-0.79],
  [3.46,-0.55],[3.46,-0.6],[3.46,-0.65],[3.46,-0.68],[3.46,-0.72],
  [3.53,1.38],[3.53,0.3],[3.53,0.25],[3.53,0.22],[3.53,0.15],[3.53,0.1],[3.53,0.05],[3.53,0.0],[3.53,-0.05],[3.53,-0.1],[3.53,-0.2],[3.53,-0.3],[3.53,-0.4],[3.53,-0.45],[3.53,-0.5],
  [3.81,0.96],[3.81,0.5],[3.81,0.3],[3.81,-0.05]];
const resCyan = [[1.83,0.0],[1.83,-0.1],
  [1.93,-0.15],[1.93,-0.22],[1.93,-0.28],[1.93,0.05],
  [2.0,0.33],[2.0,0.28],
  [2.5,0.57],[2.5,0.3],
  [2.56,0.25],[2.56,0.2],[2.56,0.15],[2.56,0.1],[2.56,0.05],[2.56,-0.3],
  [2.61,-0.05],[2.61,-0.45],[2.61,-0.5],
  [2.71,0.45],[2.71,0.0],[2.71,-0.15],
  [2.76,0.25],[2.76,-0.3],
  [2.86,0.93],[2.86,0.6],[2.86,0.55],[2.86,0.5],[2.86,0.45],[2.86,0.4],[2.86,0.3],[2.86,0.15],[2.86,-0.72],
  [2.93,0.22],[2.93,0.1],
  [3.02,0.3],[3.02,0.12],[3.02,-0.1],
  [3.11,0.7],
  [3.23,0.0],[3.23,-0.5],[3.23,-0.6],[3.23,-0.7],
  [3.29,0.02],[3.29,-0.1],[3.29,-0.35],
  [3.46,0.4],[3.46,-0.25],[3.46,-0.3],[3.46,-0.35],[3.46,-0.4],[3.46,-0.45],[3.46,-0.5],[3.46,-0.55],[3.46,-0.6],
  [3.53,0.42],[3.53,0.35],[3.53,0.3],[3.53,0.25],[3.53,0.2],[3.53,0.1],[3.53,0.0],[3.53,-0.1],
  [3.81,0.02],[3.81,-0.08]];
const smoothBlue  = [[1.83,-0.05],[2.0,-0.02],[2.3,0.06],[2.5,0.12],[2.7,0.16],[2.85,0.16],[2.95,0.12],[3.05,0.0],[3.15,-0.1],[3.3,-0.14],[3.5,-0.14],[3.65,-0.1],[3.81,0.01]];
const smoothRed   = [[1.83,-0.03],[2.0,-0.01],[2.3,0.01],[2.5,0.03],[2.7,0.07],[2.9,0.1],[3.0,0.1],[3.1,0.03],[3.25,-0.04],[3.5,-0.05],[3.65,-0.04],[3.81,-0.02]];
const smoothGreen = [[1.83,0.0],[2.0,0.01],[2.3,0.03],[2.5,0.05],[2.7,0.08],[2.9,0.1],[3.0,0.05],[3.1,-0.05],[3.25,-0.15],[3.5,-0.17],[3.65,-0.13],[3.81,-0.05]];
const smoothCyan  = [[1.83,-0.07],[2.0,-0.05],[2.3,-0.02],[2.5,0.0],[2.7,0.06],[2.9,0.12],[3.0,0.08],[3.1,-0.02],[3.25,-0.1],[3.5,-0.11],[3.65,-0.08],[3.81,-0.02]];
const smoothBlack = [[1.83,-0.03],[2.0,-0.02],[2.3,0.02],[2.5,0.06],[2.76,0.1],[2.93,0.12],[3.02,0.05],[3.11,-0.03],[3.29,-0.1],[3.46,-0.11],[3.65,-0.08],[3.81,0.0]];

// ---------------------------------------------------------------
const FONT = '"Liberation Sans", Arial, Helvetica, sans-serif';
const GREEN3 = '#00CD00';
const GREY = '#BEBEBE';

const monthly = arr => arr.map((v, i) => ({ x: tsStart + i / 12, y: v }));
const pairs = arr => arr.map(p => ({ x: p[0], y: p[1] }));

function baseOptions(pad, xr, yr) {
  return {
    responsive: false,
    animation: false,
    events: [],
    layout: { padding: pad },
    plugins: { legend: { display: false }, tooltip: { enabled: false }, title: { display: false } },
    scales: {
      x: { type: 'linear', min: xr[0], max: xr[1], display: false },
      y: { type: 'linear', min: yr[0], max: yr[1], display: false }
    }
  };
}

function lineSet(data, color, width, dash, cap) {
  return { data: data, borderColor: color, borderWidth: width, borderDash: dash || [],
    borderCapStyle: cap || 'butt', borderJoinStyle: 'round', pointRadius: 0, fill: false, tension: 0, clip: 0 };
}
function dotSet(data, color, r) {
  return { data: data, showLine: false, pointRadius: r, pointBackgroundColor: color,
    pointBorderColor: color, pointBorderWidth: 0, borderWidth: 0, clip: 0 };
}
function ringSet(data, color, r) {
  return { data: data, showLine: false, pointRadius: r, pointBackgroundColor: 'rgba(0,0,0,0)',
    pointBorderColor: color, pointBorderWidth: 1.3, borderWidth: 0, clip: 0 };
}
function bandSets(hi, lo) {
  return [
    { data: hi, borderWidth: 0, pointRadius: 0, fill: '+1', backgroundColor: GREY, tension: 0 },
    { data: lo, borderWidth: 0, pointRadius: 0, fill: false, tension: 0 }
  ];
}

function rotText(ctx, text, x, y) {
  ctx.save();
  ctx.translate(x, y);
  ctx.rotate(-Math.PI / 2);
  ctx.fillText(text, 0, 0);
  ctx.restore();
}

// R-style box, ticks, labels and titles
function rFrame(spec) {
  return {
    id: 'rFrame',
    afterDraw(chart) {
      const ctx = chart.ctx, a = chart.chartArea;
      const sx = chart.scales.x, sy = chart.scales.y;
      ctx.save();
      ctx.setLineDash([]);
      ctx.strokeStyle = '#000';
      ctx.lineWidth = 1.3;
      ctx.strokeRect(a.left, a.top, a.right - a.left, a.bottom - a.top);
      ctx.beginPath();
      spec.xTicks.forEach(v => {
        const px = sx.getPixelForValue(v);
        ctx.moveTo(px, a.bottom); ctx.lineTo(px, a.bottom + 10);
      });
      spec.yTicks.forEach(v => {
        const py = sy.getPixelForValue(v);
        ctx.moveTo(a.left, py); ctx.lineTo(a.left - 10, py);
      });
      ctx.stroke();

      ctx.fillStyle = '#000';
      ctx.textAlign = 'center';
      ctx.textBaseline = 'alphabetic';
      ctx.font = '17px ' + FONT;
      spec.xTicks.forEach((v, i) => {
        const t = spec.xLabels[i];
        if (t) ctx.fillText(t, sx.getPixelForValue(v), spec.xLabelY);
      });
      spec.yTicks.forEach((v, i) => {
        const t = spec.yLabels[i];
        if (t) rotText(ctx, t, spec.yLabelX, sy.getPixelForValue(v));
      });
      const cx = (a.left + a.right) / 2, cy = (a.top + a.bottom) / 2;
      if (spec.xlab) ctx.fillText(spec.xlab, cx, spec.xlabY);
      if (spec.ylab) rotText(ctx, spec.ylab, spec.ylabX, cy);
      ctx.font = 'bold 21.5px ' + FONT;
      ctx.fillText(spec.title, cx, spec.titleY);
      if (spec.legend) spec.legend(ctx);
      ctx.restore();
    }
  };
}

function tsLegend(ctx) {
  const rows = [74, 94.8, 115.7, 136.5, 157.3];
  ctx.font = '17px ' + FONT;
  ctx.textAlign = 'left';
  legendNames.forEach((t, i) => ctx.fillText(t, 731.7, rows[i]));
  ctx.fillStyle = '#FF0000';
  ctx.beginPath(); ctx.arc(700.7, 67.7, 3.2, 0, Math.PI * 2); ctx.fill();
  const seg = (y, color, dash, cap) => {
    ctx.strokeStyle = color; ctx.lineWidth = 3; ctx.setLineDash(dash); ctx.lineCap = cap;
    ctx.beginPath(); ctx.moveTo(684, y); ctx.lineTo(717.3, y); ctx.stroke();
  };
  seg(88.7, '#000', [], 'butt');
  seg(109.6, '#00FF00', [9, 11], 'round');
  seg(130.4, '#0000FF', [3, 9, 12, 9], 'butt');
  ctx.setLineDash([]);
  ctx.fillStyle = GREY;
  ctx.fillRect(691, 141, 20, 20);
}

function qqLegend(ctx) {
  const colors = ['#000000', '#FF0000', GREEN3, '#0000FF'];
  ctx.font = '17px ' + FONT;
  ctx.textAlign = 'left';
  ctx.lineWidth = 1.3;
  seasonNames.forEach((t, i) => {
    ctx.fillStyle = '#000';
    ctx.fillText(t, 377.7, 178.3 + 21 * i);
    ctx.strokeStyle = colors[i];
    ctx.beginPath(); ctx.arc(362.3, 170.7 + 21 * i, 4.2, 0, Math.PI * 2); ctx.stroke();
  });
}

const errorBars = {
  id: 'errorBars',
  afterDatasetsDraw(chart) {
    const ctx = chart.ctx, sx = chart.scales.x, sy = chart.scales.y;
    ctx.save();
    ctx.strokeStyle = '#000';
    ctx.lineWidth = 1.6;
    ctx.beginPath();
    tempObs.forEach((o, i) => {
      const px = sx.getPixelForValue(o), py = sy.getPixelForValue(tempPred[i]);
      const ph = sy.getPixelForValue(tempHi[i]), pl = sy.getPixelForValue(tempLo[i]);
      ctx.moveTo(px, py - 4.5); ctx.lineTo(px, ph);
      ctx.moveTo(px, py + 4.5); ctx.lineTo(px, pl);
      ctx.moveTo(px - 5.5, ph); ctx.lineTo(px + 5.5, ph);
      ctx.moveTo(px - 5.5, pl); ctx.lineTo(px + 5.5, pl);
    });
    ctx.stroke();
    ctx.restore();
  }
};

const yearLabels = yearTicks.map(String);

// panel 1: log scale time series
new Chart(document.getElementById('c1'), {
  type: 'line',
  data: { datasets: [
    dotSet(obsYear.map((t, i) => ({ x: t, y: obsLog[i] })), '#FF0000', 3.4),
    lineSet(monthly(betaLog), '#00FF00', 3, [9, 11], 'round'),
    lineSet(monthly(meanLog), '#0000FF', 3, [3, 9, 12, 9], 'butt'),
    lineSet(monthly(predLog), '#000000', 3),
    ...bandSets(monthly(ciHighLog), monthly(ciLowLog))
  ] },
  options: baseOptions({ left: 69, top: 33, right: 9, bottom: 52 }, [1998.604, 2010.149], [2.283, 6.175]),
  plugins: [rFrame({
    title: 'Predictions for 60371601', titleY: 26,
    xTicks: yearTicks, xLabels: yearLabels, xLabelY: 285,
    yTicks: logTicks, yLabels: logTickLabels, yLabelX: 45,
    ylab: 'NOx (log ppb)', ylabX: 24
  })]
});

// panel 2: ppb time series
new Chart(document.getElementById('c2'), {
  type: 'line',
  data: { datasets: [
    dotSet(obsYear.map((t, i) => ({ x: t, y: obsPpb[i] })), '#FF0000', 3.4),
    lineSet(monthly(betaPpb), '#00FF00', 3, [9, 11], 'round'),
    lineSet(monthly(meanPpb), '#0000FF', 3, [3, 9, 12, 9], 'butt'),
    lineSet(monthly(predPpb), '#000000', 3),
    ...bandSets(monthly(ciHighPpb), monthly(ciLowPpb))
  ] },
  options: baseOptions({ left: 69, top: 47, right: 9, bottom: 53 }, [1998.604, 2010.149], [-5.5, 430.5]),
  plugins: [rFrame({
    title: 'Predictions for 60371601', titleY: 40,
    xTicks: yearTicks, xLabels: yearLabels, xLabelY: 299,
    yTicks: ppbTicks, yLabels: ppbTicks.map(String), yLabelX: 45,
    ylab: 'NOx (ppb)', ylabX: 24, legend: tsLegend
  })]
});

// panel 3: cross-validation
new Chart(document.getElementById('c3'), {
  type: 'line',
  data: { datasets: [
    lineSet([{ x: 0, y: 0 }, { x: 7, y: 7 }], '#000000', 1.5, [6, 5]),
    dotSet(pairs(cvBlack), '#000000', 2.1),
    dotSet(pairs(cvRed), '#FF0000', 2.1),
    dotSet(pairs(cvYellow), '#FFFF00', 2.1),
    dotSet(pairs(cvMagenta), '#FF00FF', 2.1),
    dotSet(pairs(cvCyan), '#00FFFF', 2.1),
    dotSet(pairs(cvGreen), GREEN3, 2.1),
    dotSet(pairs(cvBlue), '#0000FF', 2.1),
    ...bandSets(cvBandObs.map((o, i) => ({ x: o, y: cvBandHi[i] })), cvBandObs.map((o, i) => ({ x: o, y: cvBandLo[i] })))
  ] },
  options: baseOptions({ left: 69, top: 46, right: 14, bottom: 60 }, [0.473, 5.954], [0.458, 6.562]),
  plugins: [rFrame({
    title: 'Cross\u2212validation NOx (log ppb)', titleY: 38,
    xTicks: [1, 2, 3, 4, 5], xLabels: ['1', '2', '3', '4', '5'], xLabelY: 297.7,
    yTicks: [1, 2, 3, 4, 5, 6], yLabels: ['1', '2', '3', '4', '5', '6'], yLabelX: 45,
    xlab: 'Observations', xlabY: 317, ylab: 'Predictions', ylabX: 25
  })]
});

// panel 4: temporal averages with intervals
new Chart(document.getElementById('c4'), {
  type: 'line',
  data: { datasets: [
    ringSet(tempObs.map((o, i) => ({ x: o, y: tempPred[i] })), '#000000', 4.2),
    lineSet([{ x: 0, y: 0 }, { x: 130, y: 130 }], '#BEBEBE', 1.5)
  ] },
  options: baseOptions({ left: 75, top: 46, right: 8, bottom: 60 }, [22.63, 94.72], [12.34, 127.1]),
  plugins: [errorBars, rFrame({
    title: 'Temporal average NOx (ppb)', titleY: 37.7,
    xTicks: [30, 40, 50, 60, 70, 80, 90], xLabels: ['30', '40', '50', '60', '70', '80', '90'], xLabelY: 297.7,
    yTicks: [20, 40, 60, 80, 100, 120], yLabels: ['20', '40', '60', '80', '', '120'], yLabelX: 50,
    xlab: 'Observations', xlabY: 317, ylab: 'Predictions', ylabX: 31
  })]
});

// panel 5: QQ plot of normalised residuals
new Chart(document.getElementById('c5'), {
  type: 'line',
  data: { datasets: [
    lineSet([{ x: -6, y: -6 }, { x: 6, y: 6 }], '#000000', 1.5),
    ringSet(pairs(qqFall), '#0000FF', 4.2),
    ringSet(pairs(qqSummer), GREEN3, 4.2),
    ringSet(pairs(qqSpring), '#FF0000', 4.2),
    ringSet(pairs(qqWinter), '#000000', 4.2)
  ] },
  options: baseOptions({ left: 69, top: 39, right: 14, bottom: 64 }, [-3.983, 3.977], [-6.59, 4.61]),
  plugins: [rFrame({
    title: 'Normalised residuals', titleY: 31.7,
    xTicks: [-2, 0, 2], xLabels: ['\u22122', '0', '2'], xLabelY: 290.7,
    yTicks: [-6, -4, -2, 0, 2, 4], yLabels: ['\u22126', '\u22124', '\u22122', '0', '2', '4'], yLabelX: 45,
    xlab: 'Theoretical Quantiles', xlabY: 311, ylab: 'Sample Quantiles', ylabX: 24, legend: qqLegend
  })]
});

// panel 6: residuals against distance to road
const smooth = (d, c) => Object.assign(lineSet(pairs(d), c, 2), { cubicInterpolationMode: 'monotone' });
new Chart(document.getElementById('c6'), {
  type: 'line',
  data: { datasets: [
    smooth(smoothBlack, '#000000'),
    smooth(smoothCyan, '#00FFFF'),
    smooth(smoothGreen, GREEN3),
    smooth(smoothRed, '#FF0000'),
    smooth(smoothBlue, '#0000FF'),
    ringSet(pairs(resCyan), '#00FFFF', 4.3),
    ringSet(pairs(resGreen), GREEN3, 4.3),
    ringSet(pairs(resRed), '#FF0000', 4.3),
    ringSet(pairs(resBlue), '#0000FF', 4.3)
  ] },
  options: baseOptions({ left: 75, top: 39, right: 9, bottom: 65 }, [1.747, 3.89], [-1.514, 1.49]),
  plugins: [rFrame({
    title: 'Residuals (log ppb)', titleY: 31.7,
    xTicks: [2.0, 2.5, 3.0, 3.5], xLabels: ['2.0', '2.5', '3.0', '3.5'], xLabelY: 291,
    yTicks: [-1.5, -1.0, -0.5, 0, 0.5, 1.0], yLabels: ['\u22121.5', '', '\u22120.5', '', '0.5', ''], yLabelX: 50,
    xlab: 'Distance to A1\u2212Road', xlabY: 311, ylab: 'Residuals', ylabX: 30
  })]
});
</script>
</body>
</html>
